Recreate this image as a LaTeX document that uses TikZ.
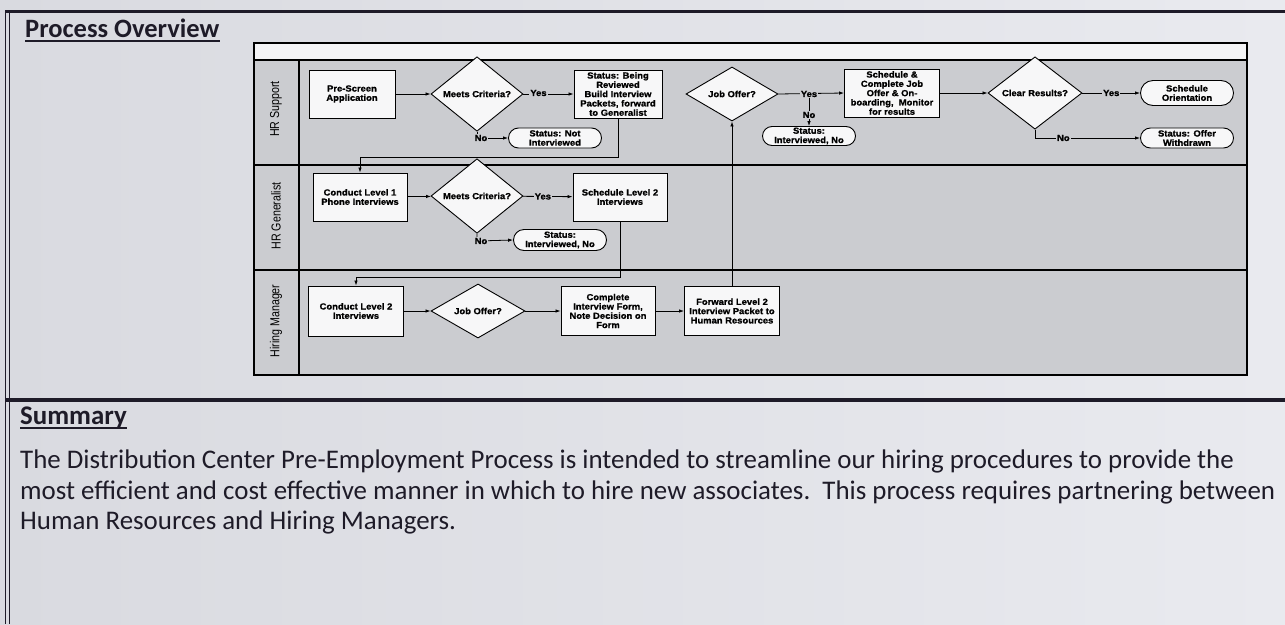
\documentclass[tikz,border=0pt]{standalone}
\usepackage{fontspec}
\usepackage{graphicx}
\setmainfont{Carlito}
\newfontfamily\dfont{Liberation Sans Bold}[FakeStretch=1.07,FakeBold=1.2]
\newfontfamily\lfont{Liberation Sans}[FakeStretch=0.82]
\usetikzlibrary{arrows.meta,shapes.geometric,shapes.misc}
\definecolor{pageL}{HTML}{D9DAE0}
\definecolor{pageR}{HTML}{E9EAEF}
\definecolor{lanebg}{HTML}{CBCCD0}
\definecolor{hdrbg}{HTML}{F4F4F6}
\definecolor{boxbg}{HTML}{F7F7F8}
\definecolor{ink}{HTML}{1E1B28}
\tikzset{
  dtext/.style={font=\dfont\fontsize{8.8}{9.3}\selectfont},
  proc/.style={draw, fill=boxbg, rectangle, minimum width=94, minimum height=48, inner sep=1pt, align=center, dtext, line width=0.9pt},
  dec/.style={draw, fill=boxbg, diamond, minimum width=92, minimum height=48, inner sep=0pt, align=center, dtext, line width=0.9pt},
  term/.style={draw, fill=boxbg, rounded rectangle, minimum width=95, minimum height=20, inner sep=1pt, align=center, dtext, line width=0.9pt},
  arr/.style={-{Latex[length=5pt,width=3.5pt]}, line width=0.8pt},
  conn/.style={line width=0.8pt},
  lbl/.style={fill=lanebg, inner sep=1pt, dtext},
  lanelbl/.style={rotate=90, font=\lfont\fontsize{13}{13}\selectfont, inner sep=0pt},
  lane/.style={line width=1.1pt},
  head/.style={font=\bfseries\fontsize{26.5}{30}\selectfont, text=ink, inner sep=0pt, anchor=base west},
  body/.style={font=\fontsize{26.9}{31}\selectfont, text=ink, inner sep=0pt, anchor=base west},
}
\begin{document}
\begin{tikzpicture}[x=1pt,y=-1pt]
\useasboundingbox (0,0) rectangle (1285,624);
\shade[left color=pageL, right color=pageR] (0,0) rectangle (1285,624);
% page frame
\draw[ink, line width=3pt] (5,11) -- (1285,11);
\draw[ink, line width=0.9pt] (5,10) -- (5,624);
\draw[ink, line width=0.9pt] (9,12) -- (9,624);
\draw[ink, line width=3.5pt] (5,400) -- (1285,400);
% heading
\node[head] (pov) at (25,37) {Process Overview};
\draw[ink, line width=1.6pt] ([yshift=-4pt]pov.base west) -- ([yshift=-4pt]pov.base east);
% swimlane frame
\fill[lanebg] (254,43) rectangle (1247,375);
\fill[hdrbg] (254,43) rectangle (1247,60);
\draw[lane] (254,43) rectangle (1247,375);
\draw[lane] (254,60) -- (1247,60);
\draw[lane] (299,60) -- (299,375);
\draw[lane] (254,165) -- (1247,165);
\draw[lane] (254,270) -- (1247,270);
\node[lanelbl] (l1) at (276,109) {HR Support};
\node[lanelbl] (l2) at (276,216) {HR Generalist};
\node[lanelbl] (l3) at (276,321) {Hiring Manager};
% HR Support lane
\node[proc, minimum width=86] (ps) at (352,94) {Pre-Screen\\Application};
\node[dec] (d1) at (477,94) {Meets Criteria?};
\node[proc, minimum width=88] (sbr) at (618,94) {Status: Being\\Reviewed\\Build Interview\\Packets, forward\\to Generalist};
\node[term] (t1) at (555,138) {Status: Not\\Interviewed};
\node[dec] (d2) at (732,94) {Job Offer?};
\node[term, minimum height=19] (t2) at (809,136) {Status:\\Interviewed, No};
\node[proc, minimum width=95] (sjo) at (892,93) {Schedule \&\\Complete Job\\Offer \& On-\\boarding,\ \ Monitor\\for results};
\node[dec, minimum width=94] (d3) at (1035,93) {Clear Results?};
\node[term, minimum height=25] (t3) at (1187,93) {Schedule\\Orientation};
\node[term] (t4) at (1187,138) {Status: Offer\\Withdrawn};
% HR Generalist lane
\node[proc] (cl1) at (360,197) {Conduct Level 1\\Phone Interviews};
\node[dec] (d4) at (477,196) {Meets Criteria?};
\node[proc] (sl2) at (620,197) {Schedule Level 2\\Interviews};
\node[term, minimum height=21] (t5) at (560,240) {Status:\\Interviewed, No};
% Hiring Manager lane
\node[proc, minimum width=95, minimum height=50] (cl2) at (356,311) {Conduct Level 2\\Interviews};
\node[dec, minimum width=94, minimum height=50] (d5) at (478,311) {Job Offer?};
\node[proc, minimum height=49] (cif) at (608,311) {Complete\\Interview Form,\\Note Decision on\\Form};
\node[proc, minimum width=95, minimum height=49] (fwd) at (732,311) {Forward Level 2\\Interview Packet to\\Human Resources};
% junction points
\coordinate (c1) at (477,138);
\coordinate (c2a) at (618,157);
\coordinate (c2b) at (360,157);
\coordinate (j1) at (809,94);
\coordinate (c3) at (1035,138);
\coordinate (c4) at (477,241);
\coordinate (c5a) at (620,277);
\coordinate (c5b) at (356,277);
% connectors HR Support
\draw[arr] (ps) -- (d1);
\draw[arr] (d1) -- node[lbl, pos=0.3, yshift=1pt] {Yes} (sbr);
\draw[arr] (d1.south) -- (c1) -- (t1.west);
\node[lbl] (n1) at (481,138) {No};
\draw[conn] (sbr.south) -- (c2a) -- (c2b);
\draw[arr] (c2b) -- (cl1.north);
\draw[arr] (d2.east) -- (sjo.west);
\node[lbl] (y2) at (j1) {Yes};
\draw[arr] (y2.south) -- node[lbl, pos=0.6] {No} (t2.north);
\draw[arr] (sjo) -- (d3);
\draw[arr] (d3) -- node[lbl, pos=0.5] {Yes} (t3);
\draw[conn] (d3.south) -- (c3);
\draw[arr] (c3) -- node[lbl, pos=0.27] {No} (t4.west);
% connectors HR Generalist
\draw[arr] (cl1) -- (d4);
\draw[arr] (d4) -- node[lbl, pos=0.4] {Yes} (sl2);
\draw[arr] (d4.south) -- (c4) -- (t5.west);
\node[lbl] (n4) at (481,241) {No};
\draw[conn] (sl2.south) -- (c5a) -- (c5b);
\draw[arr] (c5b) -- (cl2.north);
% connectors Hiring Manager
\draw[arr] (cl2) -- (d5);
\draw[arr] (d5) -- (cif);
\draw[arr] (cif) -- (fwd);
\draw[arr] (fwd.north) -- (d2.south);
% summary
\node[head, font=\bfseries\fontsize{26.9}{31}\selectfont] (sum) at (20,424) {Summary};
\draw[ink, line width=1.4pt] ([yshift=-4pt]sum.base west) -- ([yshift=-4pt]sum.base east);
\node[body] (b1) at (20,468) {The Distribution Center Pre-Employment Process is intended to streamline our hiring procedures to provide the};
\node[body] (b2) at (20,499) {most efficient and cost effective manner in which to hire new associates.\ \ This process requires partnering between};
\node[body] (b3) at (20,529) {Human Resources and Hiring Managers.};
\end{tikzpicture}
\end{document}
